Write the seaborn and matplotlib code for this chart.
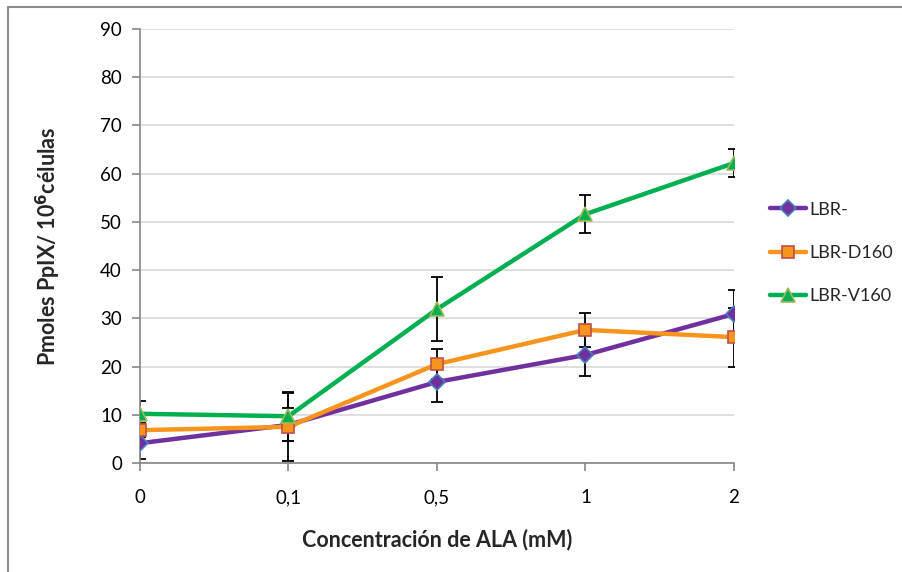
import matplotlib
matplotlib.use("Agg")
import matplotlib.pyplot as plt
from matplotlib.lines import Line2D
import seaborn as sns
import pandas as pd

# ALA concentrations (mM) shown as categories
concentrations = ["0", "0,1", "0,5", "1", "2"]

# PpIX production (pmol / 10^6 cells) and error per strain
lbr_minus = [4.1, 7.9, 16.8, 22.4, 30.9]
lbr_minus_err = [3.3, 3.4, 4.1, 4.3, 5.0]

lbr_d160 = [6.8, 7.5, 20.5, 27.6, 26.1]
lbr_d160_err = [1.5, 7.0, 3.1, 3.6, 6.1]

lbr_v160 = [10.2, 9.7, 31.9, 51.6, 62.2]
lbr_v160_err = [2.6, 5.1, 6.7, 3.9, 2.9]

series_names = ["LBR-", "LBR-D160", "LBR-V160"]

sns.set_theme(style="white")
plt.rcParams["font.family"] = ["Lato", "DejaVu Sans"]

fig = plt.figure(figsize=(9.02, 5.72), dpi=100)
ax = fig.add_axes([0.1552, 0.1906, 0.8137 - 0.1552, 0.9493 - 0.1906])

positions = list(range(len(concentrations)))
styles = {
    "LBR-": dict(color="#7030A0", marker="D", mec="#4A7EBB", ms=8.5, vals=lbr_minus, err=lbr_minus_err),
    "LBR-D160": dict(color="#F7941D", marker="s", mec="#C0504D", ms=8.5, vals=lbr_d160, err=lbr_d160_err),
    "LBR-V160": dict(color="#00B050", marker="^", mec="#9BBB59", ms=9.5, vals=lbr_v160, err=lbr_v160_err),
}

for name in series_names:
    st = styles[name]
    df = pd.DataFrame({"pos": positions, "val": st["vals"]})
    ax.errorbar(positions, st["vals"], yerr=st["err"], fmt="none", ecolor="black",
                elinewidth=1.3, capsize=4, capthick=1.3, zorder=2.5)
    sns.lineplot(data=df, x="pos", y="val", ax=ax, color=st["color"], lw=3.2,
                 marker=st["marker"], markersize=st["ms"], markerfacecolor=st["color"],
                 markeredgecolor=st["mec"], markeredgewidth=1.2, label=name, zorder=3)

ax.set_xlim(0, len(concentrations) - 1)
ax.set_ylim(0, 90)
ax.set_yticks(range(0, 91, 10))
ax.set_xticks(positions)
ax.set_xticklabels(concentrations)

ax.yaxis.grid(True, color="#D9D9D9", lw=1.2)
ax.set_axisbelow(True)
for side in ["top", "right"]:
    ax.spines[side].set_visible(False)
for side in ["left", "bottom"]:
    ax.spines[side].set_color("#868686")
    ax.spines[side].set_linewidth(1.2)

ax.tick_params(axis="both", which="major", labelsize=13.5, colors="#868686",
               labelcolor="black", length=6, width=1.2, direction="out")
ax.tick_params(axis="x", pad=13)
ax.tick_params(axis="y", pad=7)
ax.tick_params(left=True, bottom=True)

ax.set_xlabel("Concentración de ALA (mM)", fontsize=15.5, fontweight="bold", labelpad=16)
ax.set_ylabel("Pmoles PpIX/ 10$^{\\mathbf{6}}$células", fontsize=15.5, fontweight="bold", labelpad=27)

ax.legend(loc="center left", bbox_to_anchor=(0.836, 0.558), bbox_transform=fig.transFigure,
          frameon=False, fontsize=13, labelspacing=1.5, handlelength=2.0,
          handletextpad=0.15)

# thin grey frame around the chart area
frame_kw = dict(color="#8C8C8C", lw=1.5, transform=fig.transFigure)
fig.add_artist(Line2D([8 / 902, 1.0], [1 - 7 / 572, 1 - 7 / 572], **frame_kw))
fig.add_artist(Line2D([8 / 902, 8 / 902], [0.0, 1 - 7 / 572], **frame_kw))

fig.savefig("out.png", dpi=100)
